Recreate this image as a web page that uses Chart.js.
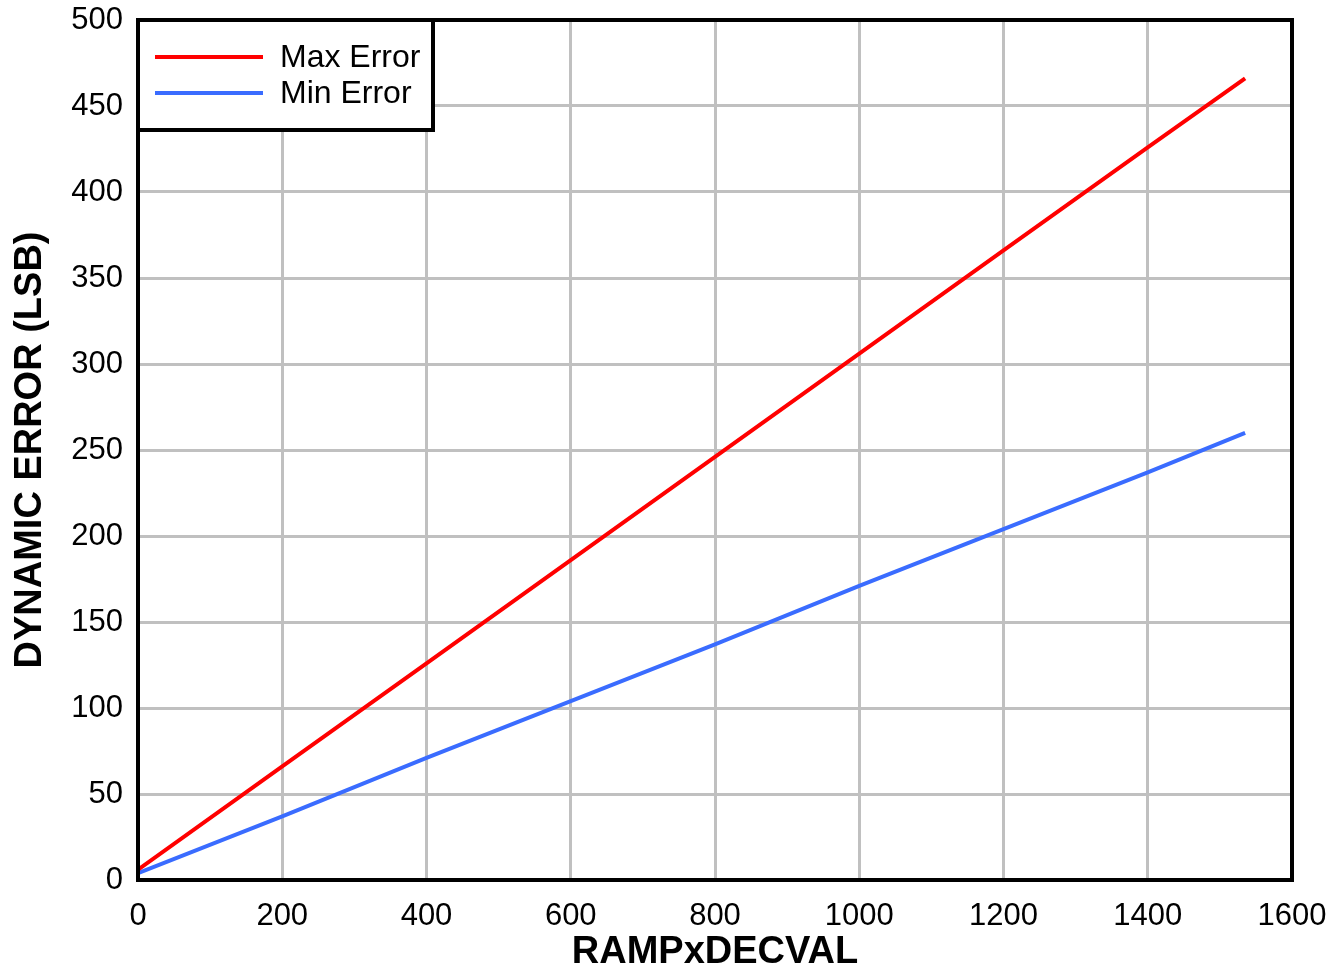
<!DOCTYPE html>
<html>
<head>
<meta charset="utf-8">
<script src="https://cdn.jsdelivr.net/npm/chart.js@4/dist/chart.umd.min.js"></script>
<style>
  html, body { margin: 0; padding: 0; background: #fff; }
  #wrap { width: 1343px; height: 975px; }
</style>
</head>
<body>
<div id="wrap"><canvas id="errChart"></canvas></div>
<script>
// values
const rampValues = [0, 200, 400, 600, 800, 1000, 1200, 1400, 1535];
const maxError = [6, 66, 126, 186, 246, 306, 366, 426, 466];
const minError = [4, 37, 71, 104, 137, 171, 204, 237, 260];
const xTicks = [0, 200, 400, 600, 800, 1000, 1200, 1400, 1600];
const yTicks = [0, 50, 100, 150, 200, 250, 300, 350, 400, 450, 500];

const FONT = "'Liberation Sans', Arial, sans-serif";

// thick black frame round the plot area
const framePlugin = {
    id: 'frame',
    afterDatasetsDraw(chart) {
        const a = chart.chartArea;
        const ctx = chart.ctx;
        ctx.save();
        ctx.strokeStyle = '#000';
        ctx.lineWidth = 4;
        ctx.strokeRect(a.left, a.top, a.right - a.left, a.bottom - a.top);
        ctx.restore();
    }
};

// boxed legend in the top left corner of the plot
const boxLegend = {
    id: 'boxLegend',
    afterDraw(chart) {
        const a = chart.chartArea;
        const ctx = chart.ctx;
        ctx.save();
        ctx.fillStyle = '#fff';
        ctx.fillRect(a.left, a.top, 295, 110);
        ctx.strokeStyle = '#000';
        ctx.lineWidth = 4;
        ctx.strokeRect(a.left, a.top, 295, 110);
        ctx.font = '32px ' + FONT;
        ctx.textBaseline = 'middle';
        chart.data.datasets.forEach((ds, i) => {
            const y = a.top + 37 + i * 36;
            ctx.strokeStyle = ds.borderColor;
            ctx.lineWidth = 4;
            ctx.beginPath();
            ctx.moveTo(a.left + 17, y);
            ctx.lineTo(a.left + 125, y);
            ctx.stroke();
            ctx.fillStyle = '#000';
            ctx.fillText(ds.label, a.left + 142, y + 1);
        });
        ctx.restore();
    }
};

const ctx = document.getElementById('errChart').getContext('2d');
new Chart(ctx, {
    type: 'line',
    data: {
        datasets: [{
            label: 'Max Error',
            data: rampValues.map((x, i) => ({ x: x, y: maxError[i] })),
            borderColor: '#ff0000',
            borderWidth: 4,
            pointRadius: 0,
            tension: 0
        }, {
            label: 'Min Error',
            data: rampValues.map((x, i) => ({ x: x, y: minError[i] })),
            borderColor: '#3a6cff',
            borderWidth: 4,
            pointRadius: 0,
            tension: 0
        }]
    },
    options: {
        responsive: true,
        maintainAspectRatio: false,
        animation: false,
        layout: { padding: { top: 20, right: 51, left: 0, bottom: 0 } },
        plugins: {
            legend: { display: false },
            tooltip: { enabled: false }
        },
        scales: {
            x: {
                type: 'linear',
                min: 0,
                max: 1600,
                afterBuildTicks: scale => { scale.ticks = xTicks.map(v => ({ value: v })); },
                afterFit: scale => {
                    scale.height = 95;
                    scale.paddingLeft = 0;
                    scale.paddingRight = 0;
                },
                grid: { color: '#c0c0c0', lineWidth: 3, drawTicks: false },
                border: { display: false },
                ticks: {
                    color: '#000',
                    font: { family: FONT, size: 31 },
                    padding: 18,
                    maxRotation: 0,
                    callback: v => String(v)
                },
                title: {
                    display: true,
                    text: 'RAMPxDECVAL',
                    color: '#000',
                    font: { family: FONT, size: 38, weight: 'bold' },
                    padding: { top: 0, bottom: 0 }
                }
            },
            y: {
                min: 0,
                max: 500,
                afterBuildTicks: scale => { scale.ticks = yTicks.map(v => ({ value: v })); },
                afterFit: scale => {
                    scale.width = 138;
                    scale.paddingTop = 0;
                    scale.paddingBottom = 0;
                },
                grid: { color: '#c0c0c0', lineWidth: 3, drawTicks: false },
                border: { display: false },
                ticks: { color: '#000', font: { family: FONT, size: 31 }, padding: 15 },
                title: {
                    display: true,
                    text: 'DYNAMIC ERROR (LSB)',
                    color: '#000',
                    font: { family: FONT, size: 38, weight: 'bold' },
                    padding: { top: 8, bottom: 0 }
                }
            }
        }
    },
    plugins: [framePlugin, boxLegend]
});
</script>
</body>
</html>
